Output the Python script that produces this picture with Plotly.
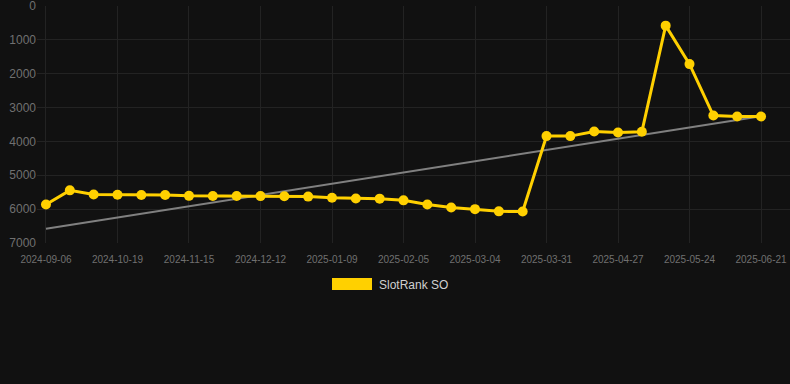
import plotly.graph_objects as go

dates = ["2024-09-06", "2024-09-20", "2024-10-05", "2024-10-19", "2024-10-28", "2024-11-06",
         "2024-11-15", "2024-11-24", "2024-12-03", "2024-12-12", "2024-12-21", "2024-12-31",
         "2025-01-09", "2025-01-18", "2025-01-27", "2025-02-05", "2025-02-14", "2025-02-23",
         "2025-03-04", "2025-03-13", "2025-03-22", "2025-03-31", "2025-04-09", "2025-04-18",
         "2025-04-27", "2025-05-06", "2025-05-15", "2025-05-24", "2025-06-02", "2025-06-11",
         "2025-06-21"]
rank = [5865, 5445, 5570, 5575, 5580, 5580, 5608, 5610, 5612, 5615, 5618, 5630, 5665, 5688, 5690,
        5740, 5862, 5950, 6000, 6065, 6068, 3843, 3843, 3706, 3735, 3715, 580, 1716, 3235, 3262, 3265]
trend_idx = [0, 30]
trend_rank = [6578, 3257]
tick_labels = dates[::3]
y_ticks = [0, 1000, 2000, 3000, 4000, 5000, 6000, 7000]

idx = list(range(len(dates)))

L, R, T, B = 37, 0, 6, 141
W, H = 790, 384
pw, ph = W - L - R, H - T - B

fig = go.Figure()
fig.add_trace(go.Scatter(x=trend_idx, y=trend_rank, mode="lines",
                         line=dict(color="#808080", width=2), showlegend=False, hoverinfo="skip"))
fig.add_trace(go.Scatter(x=idx, y=rank, mode="lines+markers", name="SlotRank SO",
                         line=dict(color="#FFD000", width=3),
                         marker=dict(color="#FFD000", size=10), showlegend=False,
                         cliponaxis=False))

fig.add_shape(type="rect", xref="paper", yref="paper", x0=(332 - L) / pw, x1=(372 - L) / pw,
              y0=(H - B - 290) / ph, y1=(H - B - 278) / ph, fillcolor="#FFD000", line=dict(width=0))
fig.add_annotation(xref="paper", yref="paper", x=(377 - L) / pw, y=(H - B - 284.5) / ph,
                   text="SlotRank SO", showarrow=False, xanchor="left", yanchor="middle",
                   font=dict(color="#d0d0d0", size=12, family="Liberation Sans, Arial"))

fig.update_layout(
    width=W, height=H,
    margin=dict(l=L, r=R, t=T, b=B, autoexpand=False),
    paper_bgcolor="#111111", plot_bgcolor="#111111",
    font=dict(family="Liberation Sans, Arial", color="#707070"),
    xaxis=dict(tickmode="array", tickvals=idx[::3], ticktext=tick_labels,
               range=[-0.377, 31.216], showgrid=True, gridcolor="#232323", gridwidth=1,
               zeroline=False, showline=False, tickfont=dict(size=10, color="#707070"),
               ticks="outside", ticklen=7, tickcolor="#111111", automargin=False,
               ticklabeloverflow="allow"),
    yaxis=dict(range=[7000, 0], tickvals=y_ticks, showgrid=True, gridcolor="#232323",
               zeroline=False, showline=False, tickfont=dict(size=12, color="#707070"),
               ticks="", automargin=False, ticklabeloverflow="allow"),
    showlegend=False,
)

fig.write_html("out.html")
